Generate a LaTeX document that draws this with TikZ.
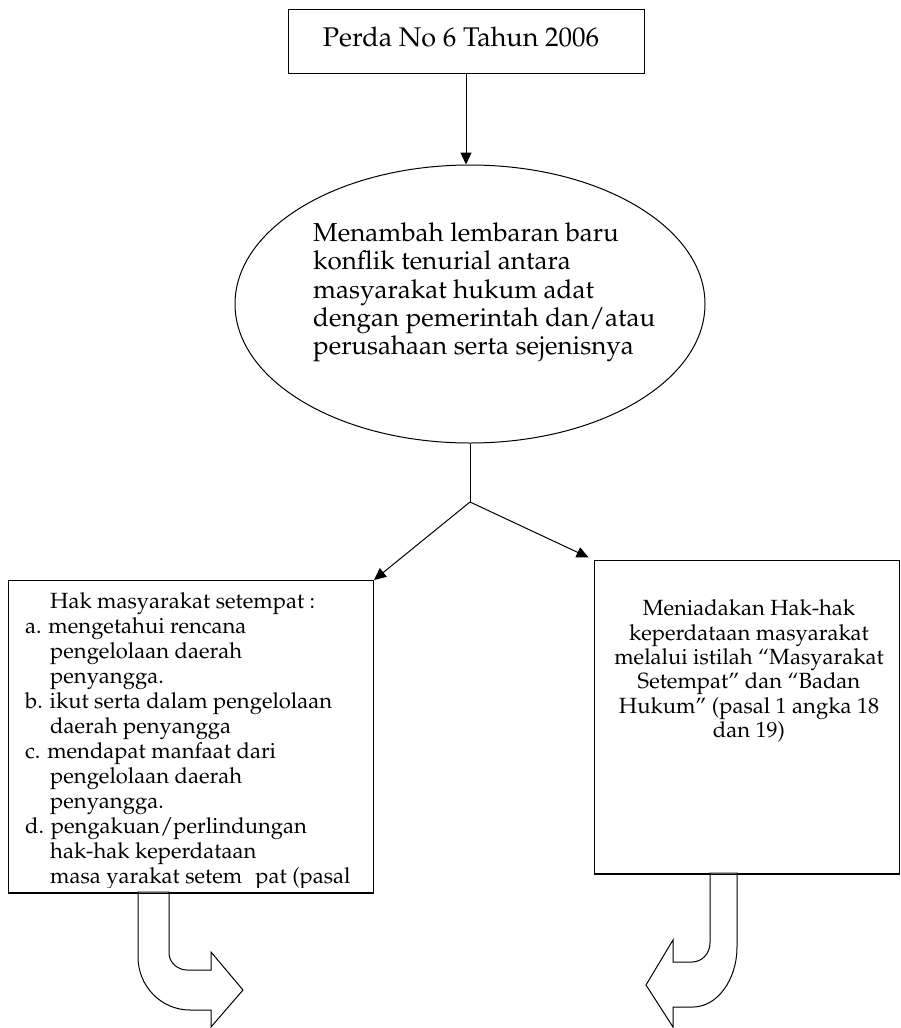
\documentclass[tikz,border=0pt]{standalone}
\usepackage[T1]{fontenc}
\usepackage{mathpazo}
\usetikzlibrary{arrows.meta,shapes.geometric}
\tikzset{
  frame/.style={draw=black, line width=1pt, inner sep=0pt},
  link/.style={draw=black, line width=1pt},
  flow/.style={link, -{Triangle[length=12pt,width=11pt]}},
  bent/.style={draw=black, line width=1pt, fill=white, line join=miter},
  titletext/.style={font=\fontsize{27}{29}\selectfont, inner sep=0pt},
  bigtext/.style={font=\fontsize{26}{28.3}\selectfont, inner sep=0pt},
  lefttext/.style={font=\fontsize{22}{25}\selectfont, inner sep=0pt},
  righttext/.style={font=\fontsize{22}{24.4}\selectfont, inner sep=0pt},
}
\begin{document}
\begin{tikzpicture}[x=1pt,y=-1pt]
\useasboundingbox (0,0) rectangle (900,1028);
\fill[white] (0,0) rectangle (900,1028);

% top box
\node[frame, minimum width=356pt, minimum height=64pt] (perda) at (466,41) {};
\node[titletext] (perdatext) at (461,37) {Perda No 6 Tahun 2006};

% ellipse
\node[frame, ellipse, minimum width=470pt, minimum height=278pt] (konflik) at (470,304) {};
\node[bigtext, align=left, anchor=west] (konfliktext) at (313,292.5)
  {Menambah lembaran baru\\konflik tenurial antara\\masyarakat hukum adat\\dengan pemerintah dan/atau\\perusahaan serta sejenisnya};

\draw[flow] (perda.south) -- (perda.south |- konflik.north);

% fork
\coordinate (fork) at (470,502);
\draw[link] (konflik.south) -- (fork);

% lower boxes
\node[frame, anchor=north west, minimum width=365pt, minimum height=312pt] (hak) at (8,580) {};
\node[frame, anchor=north west, minimum width=305pt, minimum height=313pt] (hapus) at (594,560) {};

\draw[flow] (fork) -- (hak.north east);
\draw[flow, shorten >=6pt] (fork) -- (hapus.north west);

% left box text, clipped at the lower margin
\begin{scope}
  \clip (8,580) rectangle (373,887);
  \node[lefttext, align=left, anchor=north west] (haktext) at (25,592)
    {\hspace*{25pt}Hak masyarakat setempat :\\
     a. mengetahui rencana\\
     \hspace*{25pt}pengelolaan daerah\\
     \hspace*{25pt}penyangga.\\
     b. ikut serta dalam pengelolaan\\
     \hspace*{25pt}daerah penyangga\\
     c. mendapat manfaat dari\\
     \hspace*{25pt}pengelolaan daerah\\
     \hspace*{25pt}penyangga.\\
     d. pengakuan/perlindungan\\
     \hspace*{25pt}hak-hak keperdataan\\
     \hspace*{25pt}masa yarakat setem\hspace{0.6em}pat (pasal};
\end{scope}

% right box text
\node[righttext, align=center] (hapustext) at (749,671)
  {Meniadakan Hak-hak\\keperdataan masyarakat\\melalui istilah ``Masyarakat\\Setempat'' dan ``Badan\\Hukum'' (pasal 1 angka 18\\dan 19)};

% bent arrow below the left box
\draw[bent] (138,892) -- (138,957)
  .. controls (138,986) and (161,1010) .. (190,1010)
  -- (211,1010) -- (211,1027) -- (243,990) -- (211,952) -- (211,970)
  -- (187,970) .. controls (177.6,970) and (169,962.4) .. (169,953)
  -- (169,892) -- cycle;

% bent arrow below the right box
\draw[bent] (710,873) -- (710,943)
  .. controls (710,953.5) and (702,962) .. (692,962)
  -- (673,962) -- (673,940) -- (646,985) -- (673,1027) -- (673,1007)
  -- (693,1007) .. controls (717,1007) and (737,980) .. (737,947)
  -- (737,873) -- cycle;

% redraw box edges over the arrow tops
\draw[line width=1pt] (hak.south west) -- (hak.south east);
\draw[line width=1pt] (hapus.south west) -- (hapus.south east);
\end{tikzpicture}
\end{document}
